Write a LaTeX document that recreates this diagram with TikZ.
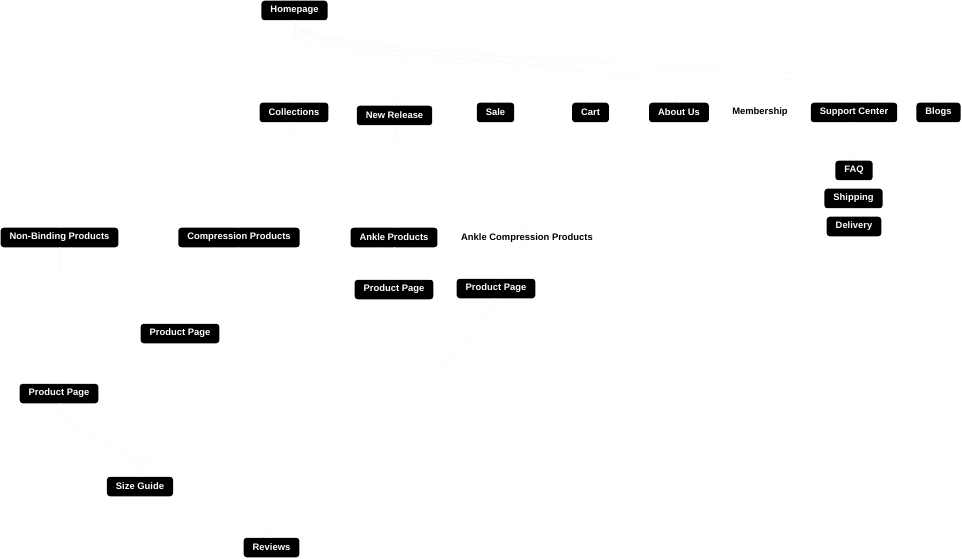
\documentclass[tikz,border=0pt]{standalone}
\usepackage{fontspec}
\setmainfont{Liberation Sans}
\usetikzlibrary{arrows.meta,positioning}

\tikzset{
  page/.style={fill=black,text=white,rounded corners=3pt,inner xsep=9pt,
    inner ysep=0pt,minimum height=19.5pt,font=\bfseries\fontsize{9.4}{10}\selectfont},
  plainpage/.style={inner sep=0pt,font=\bfseries\fontsize{9.4}{10}\selectfont},
  link/.style={draw=black!2,line width=0.6pt,-{Straight Barb[length=3pt,width=7pt]}}
}

\begin{document}
\begin{tikzpicture}[x=1pt,y=-1pt]
  \useasboundingbox (0,0) rectangle (962,559);
  % top level
  \node[page] (home) at (294.5,10.5) {Homepage};
  \node[page] (coll) at (294,112.5) {Collections};
  \node[page] (newrel) at (394.5,115.5) {New Release};
  \node[page] (sale) at (495.5,112.5) {Sale};
  \node[page] (cart) at (590.5,112.5) {Cart};
  \node[page] (about) at (679,112.5) {About Us};
  \node[plainpage] (member) at (760,112.5) {Membership};
  \node[page] (support) at (854,112.5) {Support Center};
  \node[page] (blogs) at (938.5,112.5) {Blogs};
  % support pages
  \node[page] (faq) at (854,170.5) {FAQ};
  \node[page] (ship) at (853.5,198.5) {Shipping};
  \node[page] (deliv) at (854,226.5) {Delivery};
  % products
  \node[page] (nonbind) at (59.5,237.5) {Non-Binding Products};
  \node[page] (compr) at (239,237.5) {Compression Products};
  \node[page] (ankle) at (394,237.5) {Ankle Products};
  \node[plainpage] (anklecompr) at (527,238.5) {Ankle Compression Products};
  \node[page] (ppankle) at (394,289.5) {Product Page};
  \node[page] (ppanklecompr) at (496,288.5) {Product Page};
  \node[page] (ppcompr) at (180,333.5) {Product Page};
  \node[page] (ppnonbind) at (59,393.5) {Product Page};
  \node[page] (size) at (140,486.5) {Size Guide};
  \node[page] (reviews) at (271.5,547.5) {Reviews};

  % faint links
  \foreach \t in {coll,newrel,sale,cart,about,member,support,blogs}
    \draw[link] (home.south) .. controls +(0,45) and +(0,-45) .. (\t.north);
  \foreach \a/\b in {coll/nonbind,coll/compr,newrel/ankle,newrel/anklecompr,
      compr/ppcompr,nonbind/ppnonbind,ankle/ppankle,anklecompr/ppanklecompr,
      support/faq,ppnonbind/size,ppnonbind/reviews,ppanklecompr/size,ppanklecompr/reviews}
    \draw[link] (\a.south) .. controls +(0,40) and +(0,-40) .. (\b.north);
\end{tikzpicture}
\end{document}
